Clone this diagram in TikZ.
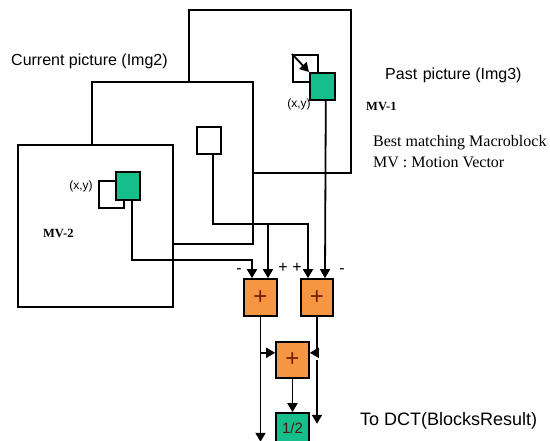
\documentclass[tikz,border=0pt]{standalone}
\usepackage{fontspec}
\setmainfont{Liberation Serif}
\setsansfont{Liberation Sans}
\usetikzlibrary{arrows.meta,calc}
\definecolor{mbgreen}{RGB}{22,190,140}
\definecolor{addorange}{RGB}{247,150,66}
\definecolor{plusred}{RGB}{110,30,10}
\begin{document}
\begin{tikzpicture}[x=1pt,y=-1pt,
  frame/.style={draw,line width=1.8pt,fill=white,inner sep=0pt,anchor=north west},
  wblock/.style={draw,line width=1.6pt,fill=white,inner sep=0pt,anchor=north west},
  gblock/.style={draw,line width=1.6pt,fill=mbgreen,inner sep=0pt,anchor=north west},
  adder/.style={draw,line width=1.6pt,fill=addorange,inner sep=0pt,minimum width=33pt,minimum height=37pt,text=plusred,font=\sffamily\fontsize{24}{24}\selectfont},
  wire/.style={line width=1.8pt},
  tip/.style={-{Triangle[length=9pt,width=10pt]}},
  sign/.style={inner sep=0pt,font=\sffamily\fontsize{16}{16}\selectfont},
  lbl/.style={anchor=west,inner sep=0pt},
  sanslbl/.style={lbl,font=\sffamily\fontsize{16}{18}\selectfont},
  seriflbl/.style={lbl,font=\fontsize{16}{18}\selectfont},
  smallserif/.style={lbl,font=\bfseries\fontsize{12.5}{14}\selectfont},
  xylbl/.style={inner sep=0pt,font=\sffamily\fontsize{12}{14}\selectfont}]
\useasboundingbox (0,0) rectangle (550,441);

% past picture
\node[frame,minimum width=162pt,minimum height=163pt] (past) at (188,9) {};
\node[wblock,minimum width=25pt,minimum height=27pt] (pw) at (292,54) {};
\node[gblock,minimum width=25pt,minimum height=27pt] (pg) at (309,72) {};
\draw[wire,tip] (pw.north west) -- (pg.north west);
\node[xylbl] (pxy) at (299,104) {(x,y)};

% current picture (middle)
\node[frame,minimum width=161pt,minimum height=162pt] (mid) at (91,81) {};
\node[wblock,minimum width=24pt,minimum height=27pt] (ms) at (196,126) {};

% front picture
\node[frame,minimum width=155pt,minimum height=162pt] (front) at (17,144) {};
\node[wblock,minimum width=25pt,minimum height=27pt] (fw) at (98,180) {};
\node[gblock,minimum width=24pt,minimum height=28pt] (fg) at (115,171) {};
\node[xylbl] (fxy) at (81,186) {(x,y)};

% adders
\node[adder] (L) at (260.5,297.5) {+};
\node[adder,minimum width=32pt] (R) at (317,297.5) {+};
\node[adder,minimum height=36pt] (B) at (292.5,360) {+};
\node[draw,line width=1.6pt,fill=mbgreen,inner sep=0pt,minimum width=33pt,minimum height=30pt,
      text=plusred!70!black,font=\sffamily\fontsize{15}{15}\selectfont] (H) at (292.5,428) {1/2};

% connection points
\coordinate (fgout) at ([xshift=4pt]fg.south);
\coordinate (msout) at ([xshift=4pt]ms.south);
\coordinate (pgout) at ([xshift=3.5pt]pg.south);
\coordinate (lin1) at ([xshift=-8.5pt]L.north);
\coordinate (lin2) at ([xshift=7.5pt]L.north);
\coordinate (rin1) at ([xshift=-9pt]R.north);
\coordinate (rin2) at ([xshift=8pt]R.north);
\coordinate (b1) at (252,260);
\coordinate (b2) at (308,224);
\coordinate (b3) at (lin2 |- b2);
\coordinate (lbr) at ($(L.south)+(0,36)$);
\coordinate (lend) at ($(L.south)+(0,125)$);
\coordinate (rbr) at ($(R.south)+(0,36)$);
\coordinate (rgap) at ($(R.south)+(0,43)$);
\coordinate (rend) at ($(R.south)+(0,107)$);

% wires
\draw[wire,tip] (fgout) |- (b1) -- (lin1);
\draw[wire,tip] (msout) |- (b2) -- (rin1);
\draw[wire,tip] (b3) -- (lin2);
\draw[wire,tip] (pgout) -- (rin2);
\draw[wire,tip] (L.south) -- (lend);
\draw[wire,tip] (lbr) -- (lbr -| B.west);
\draw[wire,tip] (R.south) -- (rbr) -- (rbr -| B.east);
\draw[wire,tip] (rgap) -- (rend);
\draw[wire,tip] (B.south) -- (H.north);

% signs
\node[sign] (s1) at (239,271) {-};
\node[sign] (s2) at (283,268) {+};
\node[sign] (s3) at (297,268) {+};
\node[sign] (s4) at (342,271) {-};

% labels
\node[sanslbl] (cur) at (11,61) {Current picture (Img2)};
\node[sanslbl] (pst) at (385,75) {Past\hspace{0.35em}picture (Img3)};
\node[smallserif] (mv1) at (366,106) {MV-1};
\node[seriflbl] (best) at (373,143) {Best matching Macroblock};
\node[seriflbl] (mvd) at (373,162) {MV : Motion Vector};
\node[smallserif] (mv2) at (43,233) {MV-2};
\node[sanslbl,font=\sffamily\fontsize{18}{20}\selectfont] (dct) at (360,421) {To DCT(BlocksResult)};
\end{tikzpicture}
\end{document}
